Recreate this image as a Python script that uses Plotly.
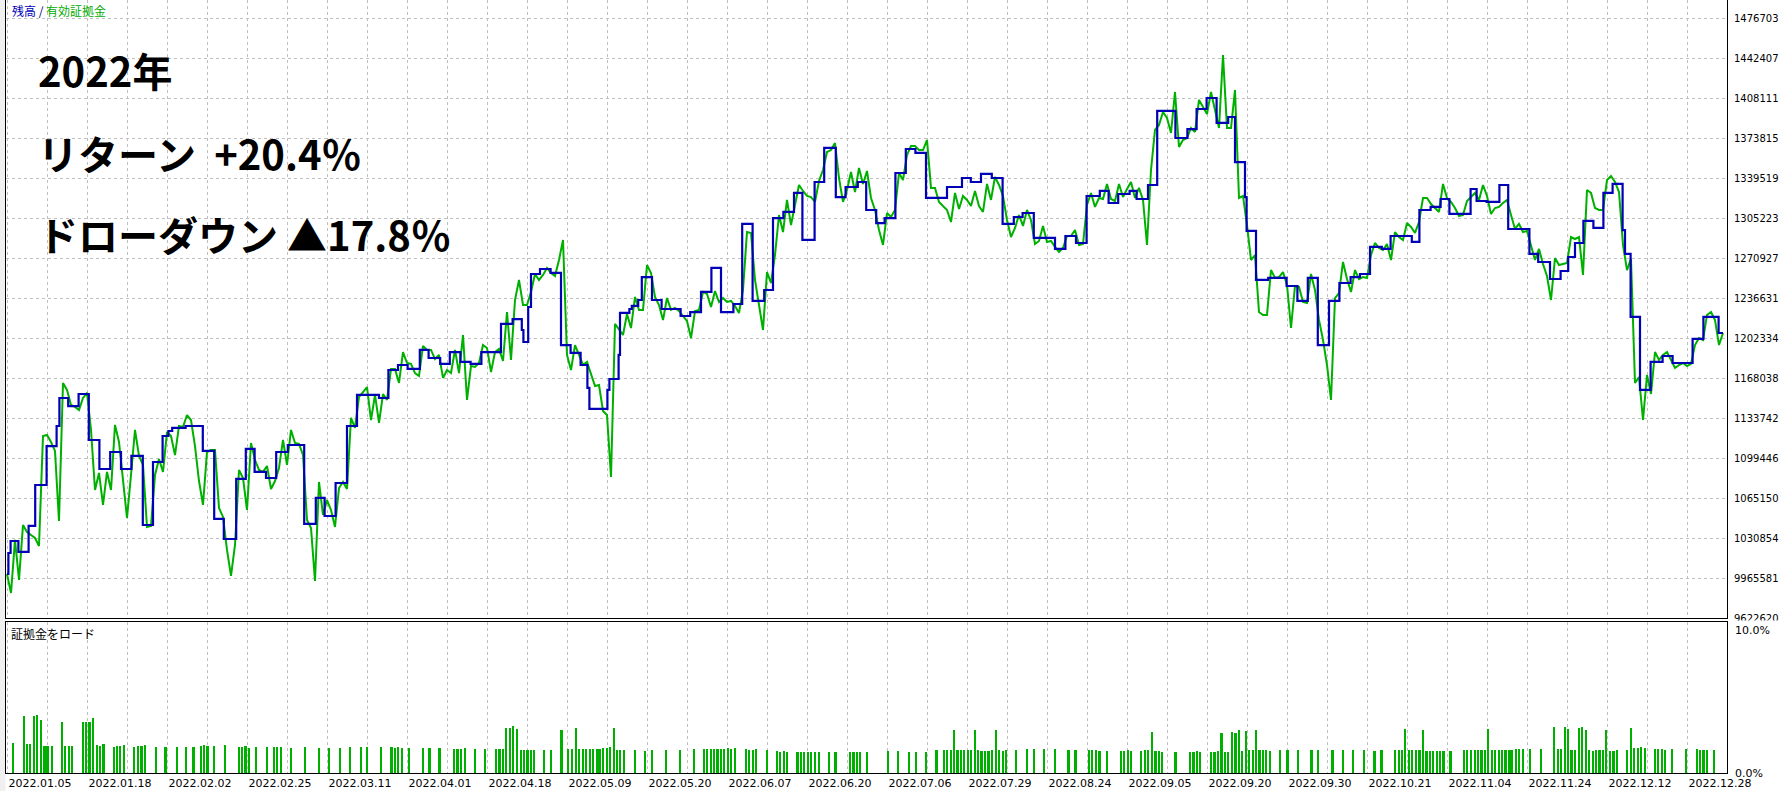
import plotly.graph_objects as go

# ---------------- data ----------------
# equity (有効証拠金), in 万円, one value per deal step
equity = [
    1000.0, 983.7, 1029.2, 994.9, 1042.0, 1036.0, 1033.4, 1030.9, 1024.0, 1118.3,
    1119.2, 1113.2, 1105.5, 1045.4, 1163.8, 1157.8, 1144.9, 1143.2, 1140.6, 1150.9,
    1155.2, 1123.5, 1072.0, 1086.6, 1059.2, 1087.5, 1072.0, 1127.8, 1113.2, 1082.3,
    1048.0, 1084.9, 1123.5, 1101.2, 1093.5, 1040.3, 1041.2, 1084.9, 1098.6, 1087.5,
    1121.8, 1118.3, 1102.0, 1126.9, 1126.0, 1136.3, 1132.0, 1109.7, 1079.7, 1059.2,
    1104.6, 1106.3, 1106.3, 1056.6, 1048.9, 1020.6, 998.3, 1024.9, 1089.2, 1082.3,
    1054.9, 1112.3, 1097.7, 1089.2, 1087.5, 1092.6, 1072.9, 1079.7, 1090.9, 1114.9,
    1093.5, 1123.5, 1112.3, 1111.5, 1102.0, 1046.3, 1039.4, 994.0, 1078.9, 1050.6,
    1063.4, 1054.9, 1040.3, 1073.7, 1078.9, 1072.9, 1133.8, 1125.2, 1151.8, 1156.0,
    1160.3, 1132.0, 1153.5, 1129.5, 1154.3, 1149.2, 1175.8, 1175.8, 1163.8, 1190.3,
    1180.9, 1180.1, 1172.3, 1169.8, 1195.5, 1192.1, 1192.1, 1184.3, 1187.8, 1168.1,
    1174.9, 1172.3, 1192.1, 1172.3, 1204.9, 1149.2, 1178.3, 1177.5, 1180.9, 1196.3,
    1193.8, 1173.2, 1190.3, 1192.9, 1182.6, 1224.6, 1183.5, 1234.9, 1252.1, 1230.6,
    1230.6, 1241.8, 1257.2, 1252.1, 1256.4, 1262.4, 1258.1, 1255.5, 1269.2, 1286.4,
    1187.8, 1174.9, 1196.3, 1187.8, 1179.2, 1181.8, 1170.6, 1161.2, 1162.0, 1139.8,
    1136.3, 1083.2, 1214.4, 1209.2, 1204.9, 1222.9, 1210.9, 1237.5, 1226.4, 1226.4,
    1264.9, 1258.1, 1237.5, 1230.6, 1217.8, 1236.6, 1226.4, 1228.1, 1225.5, 1221.2,
    1216.9, 1202.3, 1225.5, 1226.4, 1241.8, 1240.1, 1228.9, 1242.6, 1233.2, 1236.6,
    1233.2, 1234.1, 1229.8, 1223.8, 1243.5, 1293.2, 1292.4, 1252.1, 1232.4, 1209.2,
    1258.9, 1249.5, 1273.5, 1307.8, 1293.2, 1320.7, 1299.2, 1316.4, 1333.5, 1328.4,
    1324.1, 1323.2, 1319.0, 1337.0, 1346.4, 1361.8, 1363.5, 1369.5, 1339.5, 1319.0,
    1329.2, 1344.7, 1327.5, 1348.1, 1334.4, 1345.5, 1322.4, 1312.1, 1294.9, 1282.1,
    1309.5, 1306.1, 1312.1, 1343.8, 1337.8, 1359.2, 1367.0, 1367.0, 1363.5, 1363.5,
    1372.1, 1331.0, 1331.0, 1319.0, 1315.5, 1312.1, 1301.8, 1326.7, 1313.0, 1324.1,
    1320.7, 1315.5, 1328.4, 1315.5, 1310.4, 1334.4, 1320.7, 1340.4, 1333.5, 1324.1,
    1303.5, 1288.9, 1296.7, 1307.8, 1298.4, 1312.1, 1303.5, 1282.9, 1285.5, 1298.4,
    1284.7, 1285.5, 1280.4, 1276.1, 1279.5, 1289.8, 1289.8, 1294.9, 1282.1, 1282.9,
    1316.4, 1326.7, 1314.7, 1322.4, 1321.5, 1334.4, 1321.5, 1319.8, 1334.4, 1323.2,
    1330.1, 1336.1, 1322.4, 1331.0, 1320.7, 1282.1, 1346.4, 1380.7, 1385.0, 1396.1,
    1391.0, 1378.1, 1413.3, 1366.1, 1372.1, 1373.8, 1382.4, 1379.0, 1406.4, 1400.4,
    1394.4, 1413.3, 1397.8, 1382.4, 1445.0, 1382.4, 1382.4, 1415.0, 1322.4, 1324.1,
    1299.2, 1269.2, 1273.5, 1224.6, 1222.1, 1222.1, 1260.6, 1253.8, 1254.6, 1258.9,
    1247.8, 1210.9, 1246.9, 1246.1, 1233.2, 1232.4, 1257.2, 1243.5, 1217.8, 1200.6,
    1179.2, 1149.2, 1236.6, 1240.9, 1267.5, 1252.9, 1241.8, 1260.6, 1252.9, 1254.6,
    1253.8, 1273.5, 1283.8, 1279.5, 1277.8, 1282.9, 1269.2, 1293.2, 1288.9, 1286.4,
    1300.9, 1297.5, 1292.4, 1301.8, 1322.4, 1322.4, 1317.2, 1313.8, 1310.4, 1334.4,
    1322.4, 1319.0, 1313.8, 1306.9, 1307.8, 1319.8, 1323.2, 1326.7, 1320.7, 1333.5,
    1324.1, 1308.7, 1313.8, 1314.7, 1318.1, 1320.7, 1307.8, 1295.8, 1300.1, 1293.2,
    1294.1, 1282.1, 1269.2, 1278.7, 1265.8, 1255.5, 1234.9, 1270.9, 1264.9, 1265.8,
    1266.6, 1288.9, 1287.2, 1288.9, 1256.4, 1329.2, 1326.7, 1313.8, 1312.1, 1312.1,
    1337.8, 1341.2, 1336.1, 1327.5, 1282.1, 1260.6, 1270.1, 1163.8, 1168.9, 1132.0,
    1170.6, 1154.3, 1190.3, 1183.5, 1187.8, 1190.3, 1183.5, 1176.6, 1179.2, 1180.9,
    1178.3, 1180.1, 1196.3, 1202.3, 1200.6, 1222.1, 1224.6, 1217.8, 1196.3, 1206.6,
]

# balance (残高) step changes: step position and new value (万円)
balance_step = [
    0, 0.35, 0.9, 2.85, 5.4, 7.05, 9.9, 12.4, 13.1, 15.3,
    17.9, 20.45, 23.1, 25.8, 28.5, 31.1, 33.95, 36.5, 38.9, 40.35,
    41.3, 44.65, 48.95, 51.8, 54.2, 57.3, 59.7, 61.9, 64.75, 67.3,
    70.2, 74.3, 77.2, 79.4, 82.15, 85.0, 87.5, 93.0, 95.35, 97.75,
    100.15, 103.2, 105.4, 108.3, 110.7, 113.35, 115.9, 118.6, 123.5, 126.4,
    128.7, 129.1, 130.3, 131.0, 133.25, 135.9, 138.5, 140.9, 143.4, 145.1,
    145.6, 150.1, 150.6, 152.9, 153.25, 155.6, 156.2, 157.8, 158.7, 161.25,
    163.65, 168.4, 170.8, 173.5, 176.1, 178.5, 181.6, 183.8, 186.4, 189.3,
    191.5, 194.1, 196.75, 198.85, 201.9, 204.3, 207.2, 209.65, 212.7, 214.8,
    217.3, 219.4, 222.1, 224.7, 227.1, 229.75, 235.0, 238.75, 240.95, 243.5,
    246.2, 248.9, 251.7, 253.9, 256.7, 262.0, 264.6, 267.25, 269.9, 273.2,
    275.4, 277.8, 280.65, 282.4, 285.25, 287.55, 292.1, 295.1, 297.4, 299.9,
    302.4, 305.3, 307.0, 309.5, 309.9, 312.25, 315.3, 319.9, 322.6, 325.2,
    327.7, 330.5, 333.1, 335.9, 338.25, 340.75, 343.7, 345.9, 351.2, 353.1,
    355.9, 358.4, 360.6, 365.9, 367.4, 369.9, 373.1, 375.3, 380.6, 382.8,
    385.75, 388.4, 390.3, 392.0, 394.1, 396.6, 399.1, 401.4, 403.9, 404.5,
    405.9, 408.25, 410.9, 413.9, 416.4, 421.4, 424.1, 427.9, 429,
]
balance = [
    1000.0, 1018.0, 1028.3, 1018.9, 1041.2, 1076.3, 1109.7, 1126.9, 1150.9, 1144.0,
    1154.3, 1114.9, 1090.0, 1104.6, 1090.0, 1101.2, 1042.0, 1096.0, 1118.3, 1122.6,
    1125.2, 1126.9, 1105.5, 1047.2, 1030.0, 1081.5, 1107.2, 1087.5, 1082.3, 1104.6,
    1110.6, 1042.9, 1065.2, 1049.7, 1078.0, 1126.9, 1153.5, 1150.9, 1174.9, 1179.2,
    1175.8, 1192.1, 1185.2, 1180.1, 1190.3, 1181.8, 1180.1, 1190.3, 1214.4, 1218.6,
    1209.2, 1198.9, 1228.9, 1257.2, 1261.5, 1258.1, 1196.3, 1189.5, 1179.2, 1159.5,
    1141.5, 1157.8, 1167.2, 1187.8, 1223.8, 1227.2, 1229.8, 1234.9, 1254.6, 1234.9,
    1227.2, 1221.2, 1224.6, 1241.8, 1262.4, 1224.6, 1231.5, 1300.1, 1234.1, 1243.5,
    1305.2, 1310.4, 1326.7, 1286.4, 1336.1, 1365.3, 1323.2, 1331.8, 1336.1, 1312.1,
    1300.9, 1305.2, 1343.8, 1364.4, 1361.0, 1322.4, 1331.8, 1339.5, 1336.1, 1343.0,
    1339.5, 1300.1, 1306.1, 1309.5, 1288.1, 1278.7, 1289.8, 1283.8, 1324.1, 1328.4,
    1318.1, 1325.8, 1328.4, 1321.5, 1333.5, 1397.0, 1373.8, 1381.5, 1398.7, 1408.1,
    1386.7, 1391.8, 1353.2, 1323.2, 1294.1, 1252.1, 1253.8, 1246.9, 1234.1, 1253.8,
    1196.3, 1234.1, 1249.5, 1254.6, 1257.2, 1280.4, 1278.7, 1289.8, 1284.7, 1312.1,
    1314.7, 1321.5, 1308.7, 1330.1, 1319.8, 1319.0, 1333.5, 1295.8, 1274.4, 1267.5,
    1252.9, 1259.8, 1271.8, 1283.8, 1302.7, 1296.7, 1326.7, 1334.4, 1294.9, 1274.4,
    1220.4, 1157.8, 1181.8, 1186.9, 1180.9, 1201.5, 1220.4, 1206.6, 1206.6,
]

# margin load (証拠金をロード) bars: position and percent
load_pos = [
    1.4, 4.2, 4.95, 5.8, 6.7, 7.5, 8.5, 9.35, 10.1, 11.2, 13.75, 14.5, 15.4, 16.2,
    18.9, 19.7, 20.6, 21.4, 22.4, 23.2, 24.1, 26.7, 27.4, 28.3, 29.3, 31.7, 32.7,
    33.6, 34.4, 37.2, 39.6, 42.4, 44.8, 46.6, 48.4, 49.2, 50.1, 51.8, 54.4, 57.9,
    58.8, 59.6, 60.4, 62.2, 64.9, 66.7, 67.5, 68.5, 71.0, 74.4, 77.9, 80.5, 83.2,
    85.7, 88.4, 89.9, 93.4, 96.1, 97.0, 97.8, 98.7, 100.4, 103.9, 105.6, 108.1,
    111.7, 112.6, 113.4, 114.4, 117.0, 119.5, 122.2, 123.1, 124.0, 124.7, 125.7,
    126.5, 127.4, 128.4, 129.2, 130.1, 130.9, 131.8, 134.2, 136.0, 138.6, 140.3,
    141.3, 142.2, 143.0, 143.9, 144.7, 145.75, 146.5, 147.4, 148.1, 149.0, 149.9,
    150.7, 151.7, 152.45, 153.3, 154.2, 157.0, 159.4, 161.25, 164.7, 168.2, 171.7,
    174.2, 175.0, 175.9, 176.75, 177.6, 178.5, 179.3, 180.2, 181.0, 181.9, 184.7,
    185.55, 186.4, 187.2, 190.0, 192.5, 193.3, 194.2, 195.0, 197.6, 198.5, 199.3,
    200.2, 201.05, 201.9, 202.9, 205.45, 207.1, 210.7, 211.6, 212.4, 213.3, 214.9,
    220.2, 222.8, 225.45, 227.2, 229.75, 232.35, 234.15, 234.9, 236.0, 236.7,
    237.6, 238.45, 239.3, 240.2, 241.0, 242.0, 242.8, 243.6, 244.5, 245.35, 246.2,
    247.2, 247.9, 248.9, 249.75, 252.25, 254.9, 256.7, 259.3, 262.0, 265.35,
    267.1, 270.4, 271.3, 272.2, 273.1, 274.9, 278.45, 279.3, 280.2, 281.0, 283.5,
    284.4, 285.25, 286.2, 287.1, 287.9, 288.7, 292.1, 295.7, 296.6, 297.45, 298.3,
    301.0, 301.85, 302.7, 303.6, 304.4, 305.3, 306.25, 307.1, 307.95, 308.8, 309.7,
    310.5, 311.4, 312.25, 313.1, 314.0, 314.8, 315.8, 318.3, 320.1, 322.65, 326.1,
    327.8, 331.35, 334.0, 336.5, 339.2, 341.85, 343.6, 347.0, 347.9, 348.7, 349.5,
    350.45, 351.3, 352.2, 353.1, 354.0, 354.85, 355.7, 356.55, 357.4, 358.3, 359.1,
    360.85, 364.2, 365.05, 366.0, 366.9, 367.7, 368.6, 369.45, 370.3, 371.2, 372.0,
    372.9, 373.75, 374.6, 375.6, 376.3, 377.2, 378.05, 378.9, 380.8, 383.4, 386.65,
    387.7, 388.45, 389.5, 390.3, 391.1, 392.0, 392.95, 393.8, 394.65, 395.5, 396.4,
    397.25, 398.1, 398.95, 399.8, 400.8, 401.6, 402.5, 405.0, 405.9, 406.8, 407.65,
    408.5, 409.4, 411.95, 412.8, 413.7, 414.5, 416.25, 419.8, 422.45, 423.2, 424.1,
    425.05, 426.8,
]
load_pct = [
    1.97, 3.78, 1.90, 1.90, 3.78, 3.84, 3.52, 1.77, 1.77, 1.77, 3.39, 1.77, 1.77, 1.77,
    3.39, 3.39, 3.39, 3.65, 1.84, 1.77, 1.90, 1.71, 1.77, 1.77, 1.84, 1.71, 1.77,
    1.77, 1.84, 1.71, 1.71, 1.71, 1.71, 1.71, 1.77, 1.84, 1.77, 1.77, 1.84, 1.71,
    1.71, 1.77, 1.64, 1.71, 1.71, 1.71, 1.71, 1.71, 1.64, 1.71, 1.64, 1.64, 1.64,
    1.71, 1.71, 1.71, 1.71, 1.71, 1.64, 1.71, 1.64, 1.64, 1.64, 1.64, 1.64,
    1.58, 1.58, 1.58, 1.64, 1.58, 1.58, 1.58, 1.58, 1.58, 3.00, 3.00,
    3.13, 2.94, 1.51, 1.51, 1.51, 1.51, 1.51, 1.51, 1.51, 2.87, 1.58,
    1.58, 3.00, 1.58, 1.58, 1.58, 1.58, 1.58, 1.58, 1.58, 1.64, 1.64,
    1.71, 3.00, 1.51, 1.51, 1.51, 1.51, 1.45, 1.51, 1.51, 1.51, 1.58,
    1.58, 1.58, 1.58, 1.58, 1.58, 1.58, 1.58, 1.64, 1.58, 1.64, 1.58,
    1.51, 1.51, 1.58, 1.51, 1.45, 1.38, 1.45, 1.38, 1.38, 1.38, 1.38,
    1.38, 1.38, 1.38, 1.38, 1.38, 1.38, 1.38, 1.38, 1.38, 1.38, 1.38,
    1.45, 1.45, 1.38, 1.38, 1.38, 1.51, 1.51, 1.51, 1.51, 2.87,
    1.51, 1.51, 1.51, 1.51, 1.51, 2.87, 1.51, 1.45, 1.45, 1.45, 1.51,
    2.87, 1.51, 1.45, 1.51, 1.51, 1.58, 1.58, 1.58, 1.58, 1.51,
    1.51, 1.51, 1.51, 1.51, 1.45, 1.45, 1.45, 1.45, 1.51, 1.45, 1.45,
    1.51, 1.51, 2.74, 1.45, 1.45, 1.38, 1.38, 1.38, 1.38, 1.45, 1.38,
    1.38, 1.38, 1.45, 2.68, 1.38, 1.38, 2.74, 2.68, 2.87, 1.45, 2.81,
    1.51, 1.51, 2.87, 1.51, 1.51, 1.51, 1.45, 1.51, 1.51, 1.51, 1.51,
    1.51, 1.51, 1.51, 1.51, 1.51, 1.45, 1.51, 1.51, 1.51, 1.51, 2.94,
    1.51, 1.51, 1.51, 1.51, 2.87, 1.45, 1.45, 1.45, 1.45, 1.45, 1.45,
    1.45, 1.51, 1.51, 1.51, 1.51, 1.51, 1.51, 1.51, 2.94, 1.51, 1.51,
    1.51, 1.51, 1.51, 1.51, 1.51, 1.58, 1.58, 1.58, 1.58, 1.58, 3.07,
    1.58, 1.58, 3.07, 2.94, 1.51, 1.51, 3.00, 3.07, 2.87, 1.51, 1.45,
    1.51, 1.51, 1.51, 2.87, 1.45, 1.45, 1.51, 1.51, 3.00, 1.64, 1.64,
    1.71, 1.64, 1.58, 1.58, 1.58, 1.51, 1.58, 1.58, 1.58, 1.51, 1.51,
    1.51, 1.51,
]

date_labels = [
    "2022.01.05", "2022.01.18", "2022.02.02", "2022.02.25", "2022.03.11", "2022.04.01",
    "2022.04.18", "2022.05.09", "2022.05.20", "2022.06.07", "2022.06.20", "2022.07.06",
    "2022.07.29", "2022.08.24", "2022.09.05", "2022.09.20", "2022.09.30", "2022.10.21",
    "2022.11.04", "2022.11.24", "2022.12.12", "2022.12.28",
]
# price-scale levels (yen) and the labels as the terminal displays them
value_levels = [
    9622620, 9965581, 10308542, 10651503, 10994464, 11337425,
    11680386, 12023347, 12366309, 12709270, 13052231, 13395193,
    13738154, 14081115, 14424076, 14767037,
]
value_labels = [
    "9622620", "9965581", "1030854", "1065150", "1099446", "1133742",
    "1168038", "1202334", "1236631", "1270927", "1305223", "1339519",
    "1373815", "1408111", "1442407", "1476703",
]
load_labels = ["0.0%", "10.0%"]

assert len(equity) == 430
assert len(balance_step) == len(balance)
assert len(load_pos) == len(load_pct)
assert len(value_levels) == len(value_labels)

# ---------------- figure ----------------
W, H = 1779, 791
GREEN = "#00b000"
BLUE = "#0000b4"
GRID = "#c0c0c0"
AXFONT = dict(family="DejaVu Sans", size=11, color="#000000")
YFONT = dict(family="DejaVu Sans", size=10, color="#000000")

steps = list(range(len(equity)))
eq_yen = [v * 10000 for v in equity]
bal_yen = [v * 10000 for v in balance]

fig = go.Figure()
fig.add_trace(go.Scatter(x=steps, y=eq_yen, mode="lines",
                         line=dict(color=GREEN, width=2), hoverinfo="skip",
                         xaxis="x", yaxis="y"))
fig.add_trace(go.Scatter(x=balance_step, y=bal_yen, mode="lines",
                         line=dict(color=BLUE, width=2.2, shape="hv"), hoverinfo="skip",
                         xaxis="x", yaxis="y"))
fig.add_trace(go.Bar(x=load_pos, y=load_pct, width=0.55,
                     marker=dict(color=GREEN, line=dict(width=0)), hoverinfo="skip",
                     xaxis="x2", yaxis="y2"))

x_left, x_right = 6, 1727
main_bottom, low_top, low_bottom = 618, 622, 773
xdom = [x_left / W, x_right / W]
xrange = [-0.25, 430.0]

grid_pos = [0.125 + 10 * k for k in range(2 * len(date_labels) - 1)]
grid_text = [date_labels[k // 2] if k % 2 == 0 else "" for k in range(len(grid_pos))]

common_x = dict(domain=xdom, range=xrange, tickvals=grid_pos, showgrid=True,
                gridcolor=GRID, gridwidth=1, griddash="3px,3px", zeroline=False,
                showline=True, linecolor="#000000", linewidth=1,
                automargin=False, fixedrange=True)

fig.update_layout(
    width=W, height=H,
    margin=dict(l=0, r=0, t=0, b=0, pad=0),
    paper_bgcolor="#ffffff", plot_bgcolor="#ffffff",
    showlegend=False, bargap=0,
    xaxis=dict(**common_x, anchor="y", mirror=False, showticklabels=False, ticks=""),
    yaxis=dict(domain=[(H - main_bottom) / H, 1.0],
               range=[9622620, 14921352], side="right", anchor="x",
               tickvals=value_levels, ticktext=value_labels,
               showgrid=True, gridcolor=GRID, gridwidth=1, griddash="3px,3px",
               zeroline=False, showline=True, linecolor="#000000", linewidth=1,
               mirror=True, ticks="outside", ticklen=4, automargin=False,
               tickcolor="rgba(0,0,0,0)", tickfont=YFONT, fixedrange=True),
    xaxis2=dict(**common_x, anchor="y2", mirror=True, ticktext=grid_text,
                ticks="outside", ticklen=3, tickcolor="rgba(0,0,0,0)",
                ticklabelposition="outside right", tickfont=AXFONT),
    yaxis2=dict(domain=[(H - low_bottom) / H, (H - low_top) / H],
                range=[0, 10], anchor="x2", showgrid=False, zeroline=False,
                showticklabels=False, showline=True, linecolor="#000000",
                linewidth=1, mirror=True, automargin=False, fixedrange=True),
)

shapes = [
    # light gray strip at far left
    dict(type="rect", xref="paper", yref="paper", x0=0, x1=5.5 / W, y0=0, y1=1,
         fillcolor="#f0f0f0", line=dict(width=0), layer="below"),
    # clip the bottom value label at the sub-window border
    dict(type="rect", xref="paper", yref="paper", x0=(x_right + 1) / W, x1=1,
         y0=(H - 640) / H, y1=(H - 620.5) / H,
         fillcolor="#ffffff", line=dict(width=0), layer="above"),
]
fig.update_layout(shapes=shapes)

ann = []
ann.append(dict(xref="paper", yref="paper", x=10 / W, y=1 - 10 / H,
                xanchor="left", yanchor="middle", showarrow=False,
                text='<span style="color:#0000b4">残高</span>'
                     '<span style="color:#000080"> / </span>'
                     '<span style="color:#00aa00">有効証拠金</span>',
                font=dict(family="Noto Sans CJK JP", size=12)))
ann.append(dict(xref="paper", yref="paper", x=9 / W, y=1 - 633 / H,
                xanchor="left", yanchor="middle", showarrow=False,
                text="証拠金をロード",
                font=dict(family="Noto Sans CJK JP", size=12, color="#000000")))
big_font = dict(family="Noto Sans CJK JP", size=40, color="#000000")
for txt, yc in [("2022年", 70), ("リターン  +20.4％", 153), ("ドローダウン ▲17.8％", 234)]:
    ann.append(dict(xref="paper", yref="paper", x=36 / W, y=1 - yc / H,
                    xanchor="left", yanchor="middle", showarrow=False,
                    text="<b>" + txt + "</b>", font=big_font))
ann.append(dict(xref="paper", yref="paper", x=1733 / W, y=1 - 630 / H,
                xanchor="left", yanchor="middle", showarrow=False,
                text=load_labels[1], font=AXFONT))
ann.append(dict(xref="paper", yref="paper", x=1733 / W, y=1 - 773 / H,
                xanchor="left", yanchor="middle", showarrow=False,
                text=load_labels[0], font=AXFONT))
fig.update_layout(annotations=ann)

fig.write_html("out.html",
               config={"displayModeBar": False, "staticPlot": True},
               post_script="document.body.style.margin='0px';"
                           "document.body.style.overflow='hidden';")
